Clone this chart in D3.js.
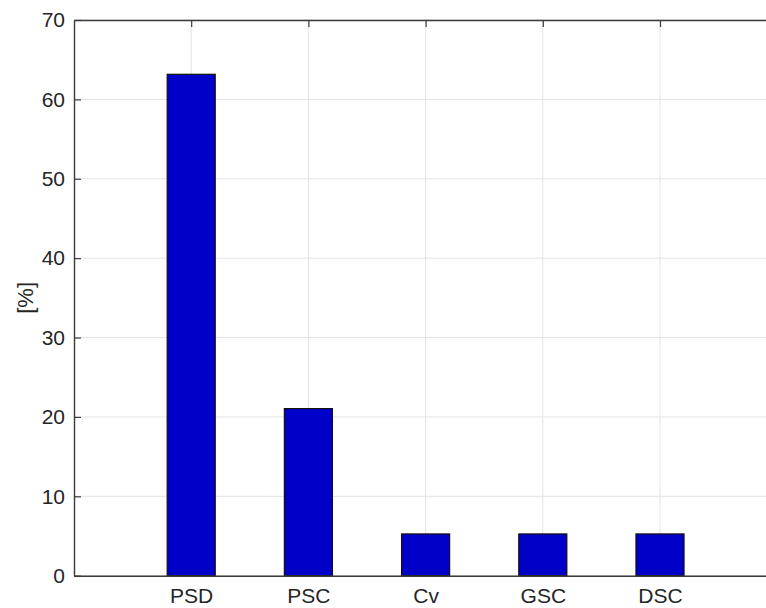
<!DOCTYPE html>
<html>
<head>
<meta charset="utf-8">
<script src="https://cdn.jsdelivr.net/npm/d3@7"></script>
<style>
  html, body { margin: 0; padding: 0; background: #fff; }
  svg { display: block; }
</style>
</head>
<body>
<svg id="chart" width="766" height="608"></svg>
<script>
const categories = ["PSD", "PSC", "Cv", "GSC", "DSC"];
const values = [63.16, 21.05, 5.26, 5.26, 5.26];
const yTicks = [0, 10, 20, 30, 40, 50, 60, 70];
const yLabel = "[%]";

const W = 766, H = 608;
const svg = d3.select("#chart");
const font = "'Liberation Sans', Arial, Helvetica, sans-serif";
const textColor = "#262626";
const axisColor = "#3a3a3a";

const x = d3.scaleLinear().domain([0, categories.length + 1]).range([74, 777.2]);
const y = d3.scaleLinear().domain([0, 70]).range([575.7, 20]);
const xPos = categories.map((c, i) => i + 1);
const barHalf = 0.205;

// grid
const grid = svg.append("g");
grid.selectAll("line.gy").data(yTicks).join("line")
  .attr("x1", x(0)).attr("x2", x(categories.length + 1))
  .attr("y1", d => y(d)).attr("y2", d => y(d))
  .attr("stroke", "#e3e3e3").attr("stroke-width", 1);
grid.selectAll("line.gx").data(xPos).join("line")
  .attr("x1", d => x(d)).attr("x2", d => x(d))
  .attr("y1", y(0)).attr("y2", y(70))
  .attr("stroke", "#e3e3e3").attr("stroke-width", 1);

// axes
const styleAxis = g => {
  g.selectAll("path.domain").attr("stroke", axisColor).attr("stroke-width", 1.4);
  g.selectAll(".tick line").attr("stroke", axisColor).attr("stroke-width", 1.2);
  g.selectAll(".tick text").attr("fill", textColor).attr("font-family", font).attr("font-size", 21);
};

svg.append("g").attr("transform", `translate(${x(0)},0)`)
  .call(d3.axisLeft(y).tickValues(yTicks).tickFormat(d3.format("d")).tickSizeInner(-7).tickSizeOuter(0).tickPadding(9))
  .call(styleAxis);

svg.append("g").attr("transform", `translate(0,${y(70)})`)
  .call(d3.axisTop(x).tickValues(xPos).tickFormat("").tickSizeInner(-7).tickSizeOuter(0))
  .call(styleAxis);

// bars
svg.append("g").selectAll("rect").data(values).join("rect")
  .attr("x", (d, i) => x(xPos[i] - barHalf))
  .attr("width", (d, i) => x(xPos[i] + barHalf) - x(xPos[i] - barHalf))
  .attr("y", d => y(d))
  .attr("height", d => y(0) - y(d))
  .attr("fill", "#0000c8")
  .attr("stroke", "#111").attr("stroke-width", 1.2);

svg.append("g").attr("transform", `translate(0,${y(0)})`)
  .call(d3.axisBottom(x).tickValues(xPos).tickFormat((d, i) => categories[i]).tickSizeInner(0).tickSizeOuter(0).tickPadding(12))
  .call(styleAxis);

// y label
svg.append("text")
  .attr("transform", `translate(25,${(y(0) + y(70)) / 2}) rotate(-90)`)
  .attr("text-anchor", "middle").attr("dominant-baseline", "central")
  .attr("font-family", font).attr("font-size", 22).attr("fill", textColor)
  .text(yLabel);
</script>
</body>
</html>
